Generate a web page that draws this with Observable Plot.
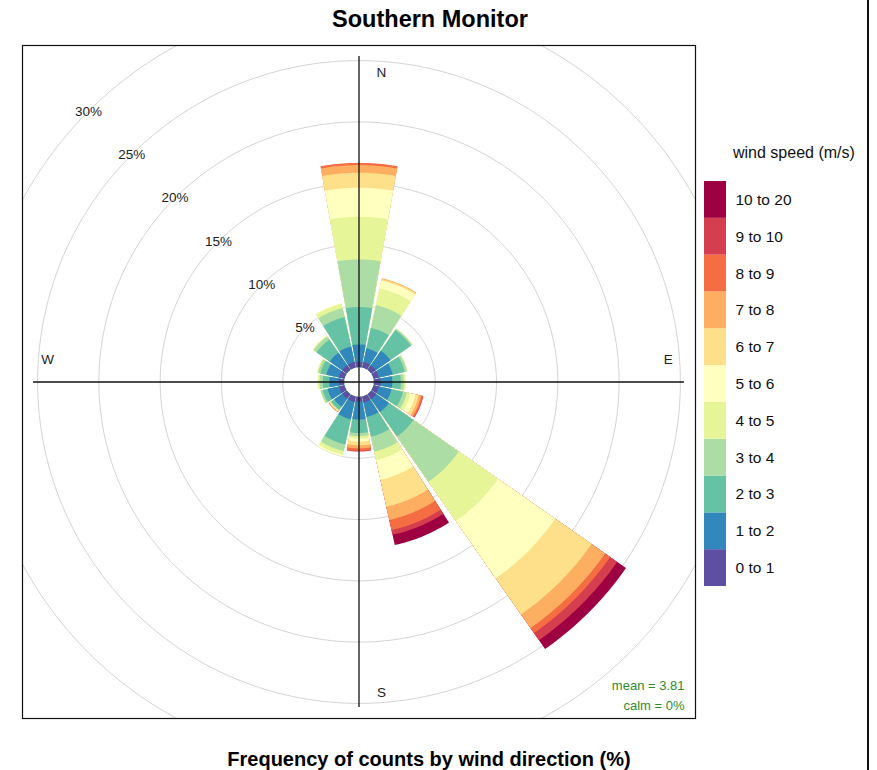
<!DOCTYPE html>
<html>
<head>
<meta charset="utf-8">
<script src="https://cdn.jsdelivr.net/npm/d3@7"></script>
<script src="https://cdn.jsdelivr.net/npm/@observablehq/plot@0.6"></script>
<style>
  body { margin: 0; background: #fff; font-family: "Liberation Sans", Arial, sans-serif; }
  #wrap { position: relative; width: 877px; height: 770px; overflow: hidden; background: #fff; }
  #title { position: absolute; left: 0; width: 860px; top: 5px; text-align: center; font-weight: bold; font-size: 23.5px; line-height: 28px; color: #000; }
  #caption { position: absolute; left: 0; width: 858px; top: 747px; text-align: center; font-weight: bold; font-size: 20px; line-height: 24px; color: #000; }
  #main { position: absolute; left: 0; top: 40px; }
  #legend { position: absolute; left: 700px; top: 140px; }
  #legtitle { position: absolute; left: 733px; top: 144px; font-size: 16px; line-height: 18px; color: #111; white-space: nowrap; }
  #edge { position: absolute; left: 867px; top: 0; width: 2px; height: 770px; background: #111; }
</style>
</head>
<body>
<div id="wrap">
  <div id="title">Southern Monitor</div>
  <div id="main"></div>
  <div id="legtitle">wind speed (m/s)</div>
  <div id="legend"></div>
  <div id="caption">Frequency of counts by wind direction (%)</div>
  <div id="edge"></div>
</div>
<script>
// ---------- data ----------
const directions = ["N","NNE","NE","ENE","E","ESE","SE","SSE","S","SSW","SW","WSW","W","WNW","NW","NNW"];
const angles = [0,22.5,45,67.5,90,112.5,135,157.5,180,202.5,225,247.5,270,292.5,315,337.5];
const speedBins = ["0 to 1","1 to 2","2 to 3","3 to 4","4 to 5","5 to 6","6 to 7","7 to 8","8 to 9","9 to 10","10 to 20"];
const binColors = ["#5E4FA2","#3288BD","#66C2A5","#ABDDA4","#E6F598","#FFFFBF","#FEE08B","#FDAE61","#F46D43","#D53E4F","#9E0142"];
const gridValues = [5,10,15,20,25,30];
const meanSpeed = "3.81";
const calmPct = "0%";

// frequency (%) of each speed bin, in the order of `directions`
const f0_1  = [0.43,0.45,0.45,0.45,0.55,0.45,0.50,0.50,0.40,0.45,0.45,0.45,0.45,0.45,0.45,0.45];
const f1_2  = [1.42,1.15,1.45,1.15,0.95,1.05,1.27,1.20,1.45,1.45,0.80,0.95,0.75,1.05,1.25,1.30];
const f2_3  = [3.05,1.70,2.05,1.00,0.70,0.95,2.43,1.65,1.10,2.10,0.30,0.40,0.54,0.50,1.30,2.45];
const f3_4  = [3.88,1.90,0.12,0.20,0.25,0.33,4.50,1.25,0.25,0.55,0.07,0.17,0.26,0.20,0.30,0.75];
const f4_5  = [3.48,1.40,0.05,0.05,0.15,0.29,3.90,0.70,0.20,0.30,0.05,0.05,0.15,0.10,0.10,0.35];
const f5_6  = [2.37,0.65,0,0,0,0.43,5.70,1.65,0.25,0.15,0.03,0,0,0,0,0.08];
const f6_7  = [1.22,0.13,0,0,0,0.28,3.60,2.25,0.30,0,0.02,0,0,0,0,0];
const f7_8  = [0.63,0.07,0,0,0,0.20,1.35,1.10,0.25,0,0.04,0,0,0,0,0];
const f8_9  = [0.18,0,0,0,0,0.12,0.50,0.85,0.20,0,0.04,0,0,0,0,0];
const f9_10 = [0,0,0,0,0,0.06,0.70,0.40,0.06,0,0,0,0,0,0,0];
const f10_20= [0,0,0,0,0,0,0.88,0.85,0,0,0,0,0,0,0,0];
const series = [f0_1,f1_2,f2_3,f3_4,f4_5,f5_6,f6_7,f7_8,f8_9,f9_10,f10_20];

// ---------- geometry (derived) ----------
const totals = directions.map((d, i) => d3.sum(series, s => s[i]));
const maxFreq = d3.max(totals);
const off = maxFreq * 0.048;          // inner hole (offset)
const axisLen = maxFreq + off;
const H = axisLen * 1.034;            // half extent of panel
const halfW = 0.9 * 11.25 * Math.PI / 180;
const rad = a => a * Math.PI / 180;

// wedges: for each direction, cumulative wedge per bin, outermost drawn first
const wedgePts = [];
directions.forEach((dir, i) => {
  const a = rad(angles[i]);
  let cum = 0;
  const cums = series.map(s => (cum += s[i]));
  for (let j = series.length - 1; j >= 0; j--) {
    if (series[j][i] <= 0) continue;
    const R = off + cums[j];
    const id = dir + "-" + j;
    const n = 24;
    for (let k = 0; k <= n; k++) {
      const t = a - halfW + (2 * halfW) * k / n;
      wedgePts.push({id, bin: speedBins[j], x: R * Math.sin(t), y: R * Math.cos(t)});
    }
    for (let k = n; k >= 0; k--) {
      const t = a - halfW + (2 * halfW) * k / n;
      wedgePts.push({id, bin: speedBins[j], x: off * Math.sin(t), y: off * Math.cos(t)});
    }
  }
});

// grid circles
const circlePts = [];
gridValues.forEach(g => {
  for (let k = 0; k <= 360; k++) {
    const t = rad(k);
    circlePts.push({g, x: (off + g) * Math.sin(t), y: (off + g) * Math.cos(t)});
  }
});

const compass = [
  {label: "N", x: 0.069, y: 0.95},
  {label: "E", x: 0.95, y: 0.069},
  {label: "S", x: 0.069, y: -0.956},
  {label: "W", x: -0.957, y: 0.069}
];

const colorOpts = {type: "ordinal", domain: speedBins, range: binColors};
const font = '"Liberation Sans", Arial, sans-serif';

const main = Plot.plot({
  width: 710, height: 690,
  marginLeft: 22, marginRight: 15, marginTop: 5, marginBottom: 12,
  x: {domain: [-H, H], axis: null},
  y: {domain: [-H, H], axis: null},
  color: colorOpts,
  style: {fontFamily: font, background: "transparent", overflow: "visible"},
  marks: [
    Plot.line(circlePts, {x: "x", y: "y", z: "g", stroke: "#d4d4d4", strokeWidth: 1, clip: true}),
    Plot.line(wedgePts, {x: "x", y: "y", z: "id", fill: "bin", stroke: "none", curve: "linear-closed"}),
    Plot.ruleX([0], {y1: () => -axisLen, y2: () => axisLen, stroke: "#111", strokeWidth: 1.3}),
    Plot.ruleY([0], {x1: () => -axisLen, x2: () => axisLen, stroke: "#111", strokeWidth: 1.3}),
    Plot.text(gridValues, {x: g => -(off + g) * Math.SQRT1_2, y: g => (off + g) * Math.SQRT1_2, text: g => g + "%", fontSize: 13.5, fill: "#222"}),
    Plot.text(compass, {x: d => d.x * axisLen, y: d => d.y * axisLen, text: "label", fontSize: 13.5, fill: "#222"}),
    Plot.frame({stroke: "#111", strokeWidth: 1.2}),
    Plot.text([`mean = ${meanSpeed}`], {frameAnchor: "bottom-right", lineAnchor: "middle", dx: -11, dy: -33, fontSize: 13, fill: "#2e8b2e"}),
    Plot.text([`calm = ${calmPct}`], {frameAnchor: "bottom-right", lineAnchor: "middle", dx: -11, dy: -13, fontSize: 13, fill: "#2e8b2e"})
  ]
});
document.getElementById("main").appendChild(main);

const legend = Plot.plot({
  width: 177, height: 450,
  marginLeft: 4, marginRight: 151, marginTop: 41, marginBottom: 4,
  x: {axis: null, padding: 0, round: false},
  y: {axis: null, domain: speedBins.slice().reverse(), padding: 0, round: false},
  color: colorOpts,
  style: {fontFamily: font, background: "transparent", overflow: "visible"},
  marks: [
    Plot.cell(speedBins, {x: () => "k", y: d => d, fill: d => d}),
    Plot.text(speedBins, {x: () => "k", y: d => d, text: d => d, textAnchor: "start", dx: 20, fontSize: 15.5, fill: "#111"})
  ]
});
document.getElementById("legend").appendChild(legend);
</script>
</body>
</html>
